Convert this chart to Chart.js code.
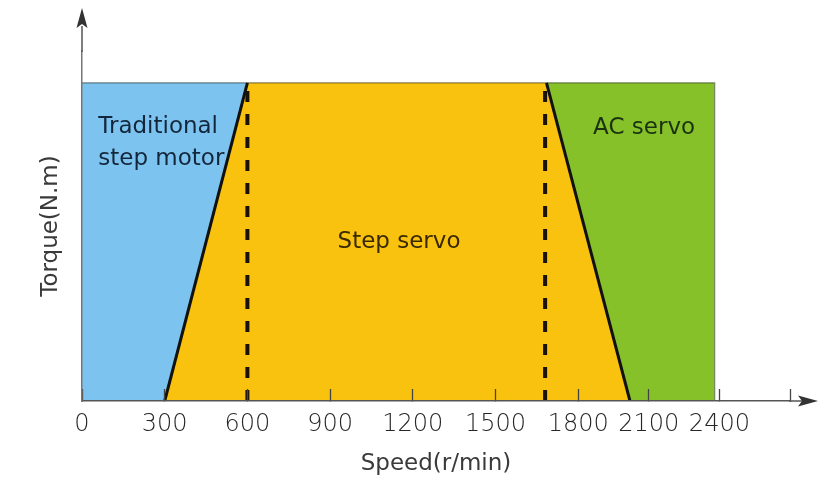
<!DOCTYPE html>
<html>
<head>
<meta charset="utf-8">
<script src="https://cdn.jsdelivr.net/npm/chart.js@4.4.1/dist/chart.umd.min.js"></script>
<style>
  html, body { margin: 0; padding: 0; background: #ffffff; }
  #wrap { width: 830px; height: 485px; }
</style>
</head>
<body>
<div id="wrap"><canvas id="c" width="830" height="485"></canvas></div>
<script>
// ---------- data ----------
const speedTicks      = [0, 300, 600, 900, 1200, 1500, 1800, 2100, 2400, 2700];
const speedTickLabels = ['0', '300', '600', '900', '1200', '1500', '1800', '2100', '2400', ''];
const torqueAxisMax = 1.1;

const traditionalX = [0, 600];
const traditionalY = [1, 1];
const stepServoX   = [300, 600, 1685, 2020];
const stepServoY   = [0, 1, 1, 0];
const acServoX     = [1685, 2380];
const acServoY     = [1, 1];
const boundaryLeftX  = [600, 600];
const boundaryRightX = [1680, 1680];
const boundaryY      = [0, 1];
const outlineX = [0, 2380, 2380];
const outlineY = [1, 1, 0];

const regionNames = [['Traditional', 'step motor'], ['Step servo'], ['AC servo']];

// ---------- layout / style ----------
// relative on-screen widths of the axis intervals (the drawn axis is not uniform)
const axisIntervalWeights = [82.7, 82.7, 82.7, 82.7, 82.7, 82.7, 70.6, 70.6, 70.6];
const labelAnchors = [
  { x: 59,   y: 0.843, align: 'left',   color: '#14263b' },
  { x: 1150, y: 0.481, align: 'center', color: '#3a2900' },
  { x: 2080, y: 0.840, align: 'center', color: '#1b3210' }
];
const FONT = "'DejaVu Sans', 'Liberation Sans', sans-serif";
const axisColor = '#555555';

const pts = (xs, ys) => xs.map((x, i) => ({ x: x, y: ys[i] }));

// ---------- piecewise linear scale ----------
class SegmentedLinearScale extends Chart.LinearScale {
  static id = 'segmentedLinear';
  _decimalFor(v) {
    const w = axisIntervalWeights;
    const total = w.reduce((a, b) => a + b, 0);
    let acc = 0;
    for (let i = 0; i < w.length; i++) {
      const a = speedTicks[i], b = speedTicks[i + 1];
      if (v <= b || i === w.length - 1) {
        return (acc + w[i] * (v - a) / (b - a)) / total;
      }
      acc += w[i];
    }
    return 0;
  }
  getPixelForValue(v) {
    if (v === null || v === undefined || isNaN(v)) return NaN;
    return this.getPixelForDecimal(this._decimalFor(v));
  }
  getValueForPixel(p) {
    const d = this.getDecimalForPixel(p);
    const w = axisIntervalWeights;
    const total = w.reduce((a, b) => a + b, 0);
    let acc = 0;
    for (let i = 0; i < w.length; i++) {
      const f0 = acc / total, f1 = (acc + w[i]) / total;
      if (d <= f1 || i === w.length - 1) {
        return speedTicks[i] + (d - f0) / (f1 - f0) * (speedTicks[i + 1] - speedTicks[i]);
      }
      acc += w[i];
    }
    return 0;
  }
}
Chart.register(SegmentedLinearScale);

// ---------- plugins ----------
const regionLabelPlugin = {
  id: 'regionLabels',
  afterDatasetsDraw(chart) {
    const { ctx, scales: { x, y } } = chart;
    ctx.save();
    ctx.font = '23px ' + FONT;
    ctx.textBaseline = 'alphabetic';
    regionNames.forEach((lines, i) => {
      const a = labelAnchors[i];
      ctx.fillStyle = a.color;
      ctx.textAlign = a.align;
      const px = x.getPixelForValue(a.x);
      const py = y.getPixelForValue(a.y);
      lines.forEach((t, k) => ctx.fillText(t, px, py + k * 32));
    });
    ctx.restore();
  }
};

const arrowPlugin = {
  id: 'axisArrows',
  afterDraw(chart) {
    const { ctx, chartArea: ca } = chart;
    ctx.save();
    ctx.strokeStyle = axisColor;
    ctx.fillStyle = '#333333';
    ctx.lineWidth = 1.5;
    // y axis extension + arrow
    ctx.beginPath();
    ctx.moveTo(ca.left, ca.top + 1);
    ctx.lineTo(ca.left, ca.top - 25);
    ctx.stroke();
    ctx.beginPath();
    ctx.moveTo(ca.left, ca.top - 43);
    ctx.lineTo(ca.left - 5.5, ca.top - 23);
    ctx.lineTo(ca.left, ca.top - 27);
    ctx.lineTo(ca.left + 5.5, ca.top - 23);
    ctx.closePath();
    ctx.fill();
    // x axis extension + arrow
    ctx.beginPath();
    ctx.moveTo(ca.right - 1, ca.bottom);
    ctx.lineTo(ca.right + 12, ca.bottom);
    ctx.stroke();
    ctx.beginPath();
    ctx.moveTo(ca.right + 28, ca.bottom);
    ctx.lineTo(ca.right + 8, ca.bottom - 5.5);
    ctx.lineTo(ca.right + 12, ca.bottom);
    ctx.lineTo(ca.right + 8, ca.bottom + 5.5);
    ctx.closePath();
    ctx.fill();
    ctx.restore();
  }
};

// ---------- chart ----------
const base = { pointRadius: 0, pointHoverRadius: 0, tension: 0 };

new Chart(document.getElementById('c'), {
  type: 'line',
  data: {
    datasets: [
      Object.assign({}, base, {
        label: 'boundary 600', data: pts(boundaryLeftX, boundaryY), order: 0,
        borderColor: '#1a1208', borderWidth: 4, borderDash: [11, 12], fill: false
      }),
      Object.assign({}, base, {
        label: 'boundary 1680', data: pts(boundaryRightX, boundaryY), order: 0,
        borderColor: '#1a1208', borderWidth: 4, borderDash: [11, 12], fill: false
      }),
      Object.assign({}, base, {
        label: 'rising edge', data: pts(stepServoX.slice(0, 2), stepServoY.slice(0, 2)), order: 1,
        borderColor: '#111111', borderWidth: 3, fill: false
      }),
      Object.assign({}, base, {
        label: 'falling edge', data: pts(stepServoX.slice(2), stepServoY.slice(2)), order: 1,
        borderColor: '#111111', borderWidth: 3, fill: false
      }),
      Object.assign({}, base, {
        label: 'outline', data: pts(outlineX, outlineY), order: 1,
        borderColor: 'rgba(40,50,40,0.55)', borderWidth: 1.2, fill: false
      }),
      Object.assign({}, base, {
        label: 'Step servo', data: pts(stepServoX, stepServoY), order: 2,
        backgroundColor: '#f8c20e', fill: 'origin', borderWidth: 0,
        borderColor: 'rgba(0,0,0,0)'
      }),
      Object.assign({}, base, {
        label: 'Traditional step motor', data: pts(traditionalX, traditionalY), order: 3,
        backgroundColor: '#7cc4ef', borderColor: 'rgba(0,0,0,0)', borderWidth: 0, fill: 'origin'
      }),
      Object.assign({}, base, {
        label: 'AC servo', data: pts(acServoX, acServoY), order: 3,
        backgroundColor: '#87c12a', borderColor: 'rgba(0,0,0,0)', borderWidth: 0, fill: 'origin'
      })
    ]
  },
  options: {
    responsive: false,
    animation: false,
    events: [],
    layout: { padding: { left: 0, right: 40, top: 51, bottom: 0 } },
    plugins: { legend: { display: false }, tooltip: { enabled: false } },
    scales: {
      x: {
        type: 'segmentedLinear',
        min: 0, max: speedTicks[speedTicks.length - 1],
        afterBuildTicks(scale) { scale.ticks = speedTicks.map(v => ({ value: v })); },
        afterFit(scale) { scale.height = 84; },
        grid: {
          display: true, drawOnChartArea: false, drawTicks: true,
          tickLength: -12, tickColor: '#444444', tickWidth: 1.3, z: 1
        },
        border: { display: true, color: axisColor, width: 1.5, z: 1 },
        ticks: {
          autoSkip: false, maxRotation: 0, padding: 21,
          color: '#262626',
          font: { family: FONT, size: 24, weight: 200 },
          callback: (v) => { const i = speedTicks.indexOf(v); return i >= 0 ? speedTickLabels[i] : ''; }
        },
        title: {
          display: true, text: 'Speed(r/min)', color: '#3a3a3a',
          font: { family: FONT, size: 23 }, padding: { top: 0, bottom: 7.5 }
        }
      },
      y: {
        type: 'linear',
        min: 0, max: torqueAxisMax,
        afterFit(scale) { scale.width = 82; },
        grid: { display: false, drawTicks: false },
        border: { display: true, color: '#777777', width: 1.5, z: 1 },
        ticks: { display: false },
        title: {
          display: true, text: 'Torque(N.m)', color: '#3a3a3a',
          font: { family: FONT, size: 23 }, padding: { top: 37.5, bottom: 0 }
        }
      }
    }
  },
  plugins: [regionLabelPlugin, arrowPlugin]
});
</script>
</body>
</html>
